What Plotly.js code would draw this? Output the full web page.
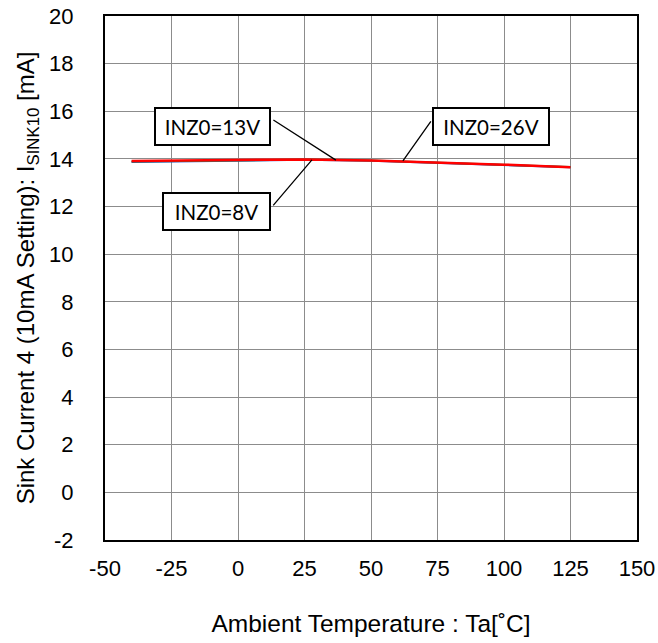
<!DOCTYPE html>
<html><head><meta charset="utf-8">
<script src="https://cdn.plot.ly/plotly-3.0.1.min.js"></script>
<style>body{margin:0}</style></head>
<body><div id="chart" style="width:658px;height:643px"></div>
<script>
const temps = [-40, 0, 25, 50, 75, 100, 125];
const inz8 = [13.87, 13.92, 13.96, 13.92, 13.84, 13.76, 13.65];
const inz13 = [13.89, 13.93, 13.97, 13.93, 13.85, 13.77, 13.66];
const inz26 = [13.91, 13.94, 13.98, 13.93, 13.85, 13.76, 13.65];
const seriesNames = ['INZ0=8V', 'INZ0=13V', 'INZ0=26V'];
const xTicks = [-50, -25, 0, 25, 50, 75, 100, 125, 150];
const yTicks = [-2, 0, 2, 4, 6, 8, 10, 12, 14, 16, 18, 20];

const traces = [
  {x: temps, y: inz8, name: seriesNames[0], mode: 'lines', line: {color: '#3355cc', width: 2}},
  {x: temps, y: inz13, name: seriesNames[1], mode: 'lines', line: {color: '#2a8a3a', width: 2}},
  {x: temps, y: inz26, name: seriesNames[2], mode: 'lines', line: {color: '#ff0000', width: 2.5}}
];
const annFont = {family: 'Lato, "Open Sans", sans-serif', size: 20.5, color: '#000'};
function box(text, px, py, w) {
  return {x: px, y: py, xref: 'paper', yref: 'paper', text: text, showarrow: false,
    xanchor: 'center', yanchor: 'middle', width: w, height: 31, align: 'center',
    bgcolor: '#fff', bordercolor: '#000', borderwidth: 2, borderpad: 2, font: annFont};
}
function leader(x, y, ax, ay) {
  return {x: x, y: y, xref: 'x', yref: 'y', text: '', showarrow: true, arrowhead: 0,
    arrowwidth: 1.3, arrowcolor: '#000', ax: ax, ay: ay, standoff: 0, startstandoff: 0};
}
const layout = {
  width: 658, height: 643,
  margin: {l: 105, r: 21, t: 16, b: 103},
  paper_bgcolor: '#fff', plot_bgcolor: '#fff',
  showlegend: false,
  font: {family: 'Liberation Sans, Arial, sans-serif', size: 22, color: '#000'},
  xaxis: {range: [-50, 150], tickvals: xTicks, ticktext: xTicks.map(String),
    showgrid: true, gridcolor: '#8c8c8c', gridwidth: 1, zeroline: false,
    showline: true, linecolor: '#000', linewidth: 2, mirror: true,
    ticks: '', ticklabelstandoff: 8, tickfont: {size: 22},
    title: {text: 'Ambient Temperature : Ta[˚C]', standoff: 34, font: {size: 24.5}}},
  yaxis: {range: [-2, 20], tickvals: yTicks, ticktext: yTicks.map(String),
    showgrid: true, gridcolor: '#8c8c8c', gridwidth: 1, zeroline: false,
    showline: true, linecolor: '#000', linewidth: 2, mirror: true,
    ticks: '', ticklabelstandoff: 25, tickfont: {size: 22},
    title: {text: 'Sink Current 4 (10mA Setting): I<sub>SINK10</sub> [mA]', standoff: 8, font: {size: 24}}},
  annotations: [
    leader(36.8, 13.95, -64, -41),
    leader(27.8, 13.96, -40, 47),
    leader(62.0, 13.92, 29, -41),
    box(seriesNames[1], 0.202, 0.789, 109),
    box(seriesNames[0], 0.2096, 0.626, 101),
    box(seriesNames[2], 0.7256, 0.790, 110)
  ]
};
Plotly.newPlot('chart', traces, layout, {displayModeBar: false, staticPlot: true});
</script></body></html>
